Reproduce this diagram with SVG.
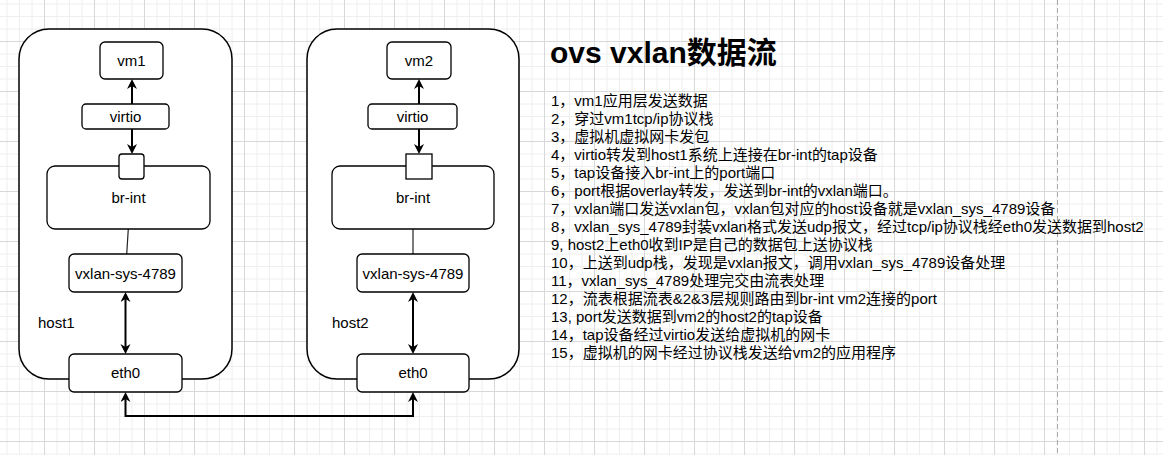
<svg xmlns="http://www.w3.org/2000/svg" width="1163" height="455" viewBox="0 0 1163 455">
<style>
.box{fill:#fff;stroke:#000;stroke-width:1.3}
.host{fill:#fff;stroke:#000;stroke-width:1.5}
.lbl{font-family:"Liberation Sans","Noto Sans CJK SC",sans-serif;font-size:15px;fill:#000}
.c{text-anchor:middle}
.title{font-family:"Liberation Sans","Noto Sans CJK SC",sans-serif;font-size:30px;font-weight:bold;fill:#000}
.arr{fill:none;stroke:#000;stroke-width:2}
.thin{fill:none;stroke:#222;stroke-width:1.2}
</style>
<defs>
<pattern id="grid" width="50" height="50" patternUnits="userSpaceOnUse" x="44" y="41">
<path d="M13,0V50M25.5,0V50M38,0V50M0,13H50M0,25.5H50M0,38H50" stroke="#eeeeee" stroke-width="1" fill="none"/>
<path d="M0.5,0V50M0,0.5H50" stroke="#d8d8d8" stroke-width="1" fill="none"/>
</pattern>
<marker id="ah" markerUnits="userSpaceOnUse" markerWidth="12" markerHeight="12" viewBox="0 0 12 12" refX="3" refY="5" orient="auto-start-reverse">
<path d="M0,0 L10,5 L0,10 L3,5 z" fill="#000"/>
</marker>
</defs>
<rect width="1163" height="455" fill="#fff"/>
<rect width="1163" height="455" fill="url(#grid)"/>
<line x1="1057.5" y1="0" x2="1057.5" y2="455" stroke="#aaa" stroke-width="1" stroke-dasharray="5,3"/>

<g id="host1">
<rect class="host" x="19" y="29" width="213" height="350" rx="30"/>
<text class="lbl" x="38" y="328">host1</text>
</g>
<g id="host2">
<rect class="host" x="307" y="29" width="212" height="350" rx="30"/>
<text class="lbl" x="332" y="328">host2</text>
</g>

<g id="connectors">
<path class="arr" d="M132,104 V86" marker-end="url(#ah)"/>
<path class="arr" d="M132,129 V147" marker-end="url(#ah)"/>
<path class="thin" d="M128.3,229 L126.7,254"/>
<path class="arr" d="M125.5,299 V347" marker-start="url(#ah)" marker-end="url(#ah)"/>
<path class="arr" d="M419,104 V86" marker-end="url(#ah)"/>
<path class="arr" d="M419,129 V147" marker-end="url(#ah)"/>
<path class="thin" d="M413,229 V254"/>
<path class="arr" d="M413,299 V347" marker-start="url(#ah)" marker-end="url(#ah)"/>
<path class="arr" d="M125.5,399 V416 H413 V399" marker-start="url(#ah)" marker-end="url(#ah)"/>
</g>

<g id="vm1"><rect class="box" x="100" y="42" width="63" height="37" rx="5"/><text class="lbl c" x="131.5" y="66">vm1</text></g>
<g id="virtio1"><rect class="box" x="82" y="104" width="87" height="25" rx="4"/><text class="lbl c" x="125.5" y="121.5">virtio</text></g>
<g id="brint1"><rect class="box" x="47" y="166" width="163" height="63" rx="8"/><text class="lbl c" x="128.5" y="203">br-int</text></g>
<g id="port1"><rect class="box" x="119" y="154" width="25" height="25" rx="3"/></g>
<g id="vxlan1"><rect class="box" x="69" y="254" width="113" height="38" rx="5"/><text class="lbl c" x="125.5" y="278.5">vxlan-sys-4789</text></g>
<g id="eth0-1"><rect class="box" x="69" y="354" width="113" height="38" rx="5"/><text class="lbl c" x="125.5" y="377.5">eth0</text></g>

<g id="vm2"><rect class="box" x="387" y="42" width="64" height="37" rx="5"/><text class="lbl c" x="419" y="66">vm2</text></g>
<g id="virtio2"><rect class="box" x="368" y="104" width="89" height="25" rx="4"/><text class="lbl c" x="412.5" y="121.5">virtio</text></g>
<g id="brint2"><rect class="box" x="332" y="166" width="162" height="63" rx="8"/><text class="lbl c" x="413" y="203">br-int</text></g>
<g id="port2"><rect class="box" x="406" y="154" width="26" height="25"/></g>
<g id="vxlan2"><rect class="box" x="357" y="254" width="112" height="38" rx="5"/><text class="lbl c" x="413" y="278.5">vxlan-sys-4789</text></g>
<g id="eth0-2"><rect class="box" x="357" y="354" width="112" height="38" rx="5"/><text class="lbl c" x="413" y="377.5">eth0</text></g>

<g id="notes">
<text class="title" x="550" y="63">ovs vxlan数据流</text>
<text class="lbl" x="551" y="106">1，vm1应用层发送数据</text>
<text class="lbl" x="551" y="124">2，穿过vm1tcp/ip协议栈</text>
<text class="lbl" x="551" y="142">3，虚拟机虚拟网卡发包</text>
<text class="lbl" x="551" y="160">4，virtio转发到host1系统上连接在br-int的tap设备</text>
<text class="lbl" x="551" y="178">5，tap设备接入br-int上的port端口</text>
<text class="lbl" x="551" y="196">6，port根据overlay转发，发送到br-int的vxlan端口。</text>
<text class="lbl" x="551" y="214">7，vxlan端口发送vxlan包，vxlan包对应的host设备就是vxlan_sys_4789设备</text>
<text class="lbl" x="551" y="232">8，vxlan_sys_4789封装vxlan格式发送udp报文，经过tcp/ip协议栈经eth0发送数据到host2</text>
<text class="lbl" x="551" y="250">9, host2上eth0收到IP是自己的数据包上送协议栈</text>
<text class="lbl" x="551" y="268">10，上送到udp栈，发现是vxlan报文，调用vxlan_sys_4789设备处理</text>
<text class="lbl" x="551" y="286">11，vxlan_sys_4789处理完交由流表处理</text>
<text class="lbl" x="551" y="304">12，流表根据流表&amp;2&amp;3层规则路由到br-int vm2连接的port</text>
<text class="lbl" x="551" y="322">13, port发送数据到vm2的host2的tap设备</text>
<text class="lbl" x="551" y="340">14，tap设备经过virtio发送给虚拟机的网卡</text>
<text class="lbl" x="551" y="358">15，虚拟机的网卡经过协议栈发送给vm2的应用程序</text>
</g>
</svg>
